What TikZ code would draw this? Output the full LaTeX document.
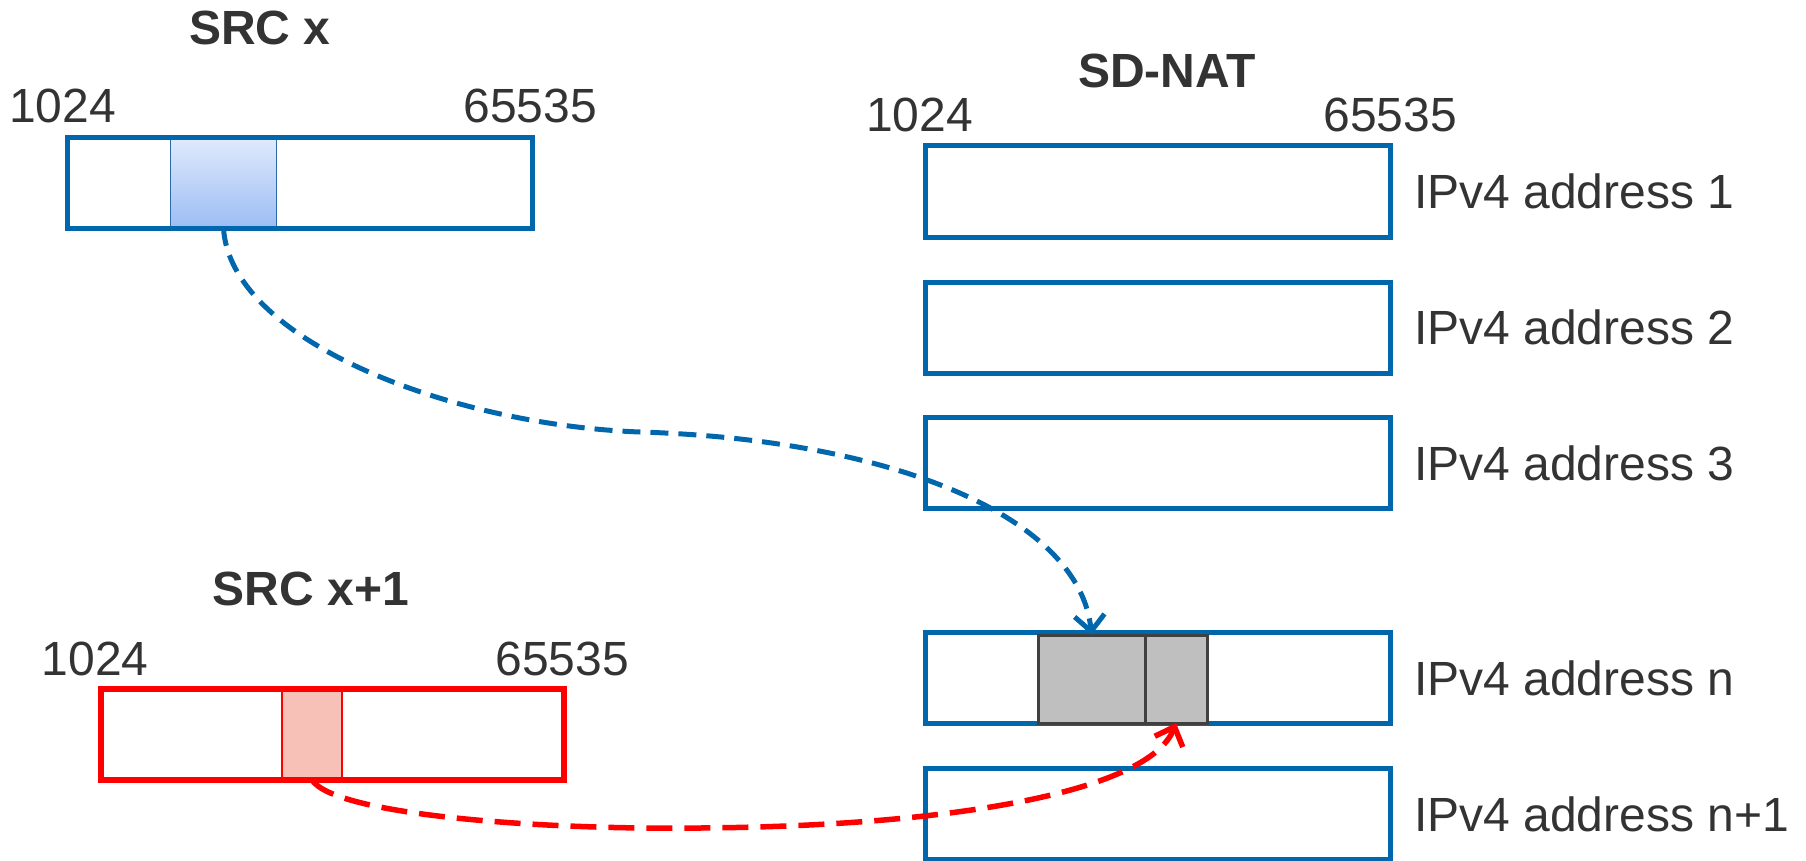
\documentclass[tikz,border=0pt]{standalone}
\usepackage{fontspec}
\setmainfont{Liberation Sans}
\usetikzlibrary{arrows.meta}
\definecolor{bblue}{HTML}{0067AC}
\definecolor{tgray}{HTML}{333333}
\definecolor{rred}{HTML}{FF0000}
\definecolor{gfill}{HTML}{BFBFBF}
\definecolor{gline}{HTML}{404040}
\definecolor{pfill}{HTML}{F8C1B8}
\definecolor{slottop}{HTML}{E0EAFC}
\definecolor{slotbot}{HTML}{9CBDF4}
\definecolor{slotline}{HTML}{2A6BA8}
\tikzset{
  lbl/.style={font=\fontsize{48}{56}\selectfont, text=tgray, inner sep=0pt},
  ttl/.style={font=\fontsize{48}{56}\selectfont\bfseries, text=tgray, inner sep=0pt},
  bbox/.style={draw=bblue, line width=5pt, rectangle, minimum width=465pt, minimum height=91pt, inner sep=0pt, outer sep=0pt},
  rbox/.style={draw=rred, line width=5.5pt, rectangle, minimum width=463pt, minimum height=91pt, inner sep=0pt, outer sep=0pt},
  bslotst/.style={draw=slotline, line width=1.5pt, top color=slottop, bottom color=slotbot, rectangle, minimum width=106pt, minimum height=90pt, inner sep=0pt, outer sep=0pt},
  pslotst/.style={draw=rred, line width=1.5pt, fill=pfill, rectangle, minimum width=60pt, minimum height=91pt, inner sep=0pt, outer sep=0pt},
  gslot/.style={draw=gline, line width=3pt, fill=gfill, rectangle, minimum height=88pt, inner sep=0pt, outer sep=0pt},
  bluearr/.style={draw=bblue, line width=5pt, dash pattern=on 18pt off 10pt, -{Straight Barb[length=16pt,width=30pt]}},
  redarr/.style={draw=rred, line width=5.5pt, dash pattern=on 26pt off 12pt, -{Straight Barb[length=16pt,width=30pt]}}
}
\begin{document}
\begin{tikzpicture}[x=1pt,y=-1pt]
\useasboundingbox (0,0) rectangle (1806,861);

% SRC x
\node[ttl, anchor=base] (tsrcx) at (260,45) {SRC x};
\node[lbl, anchor=base west] (sxlo) at (9,123) {1024};
\node[lbl, anchor=base east] (sxhi) at (597,123) {65535};
\node[bslotst] (bslot) at (223.5,183) {};
\node[bbox, minimum height=90pt] (srcx) at (299.5,183) {};

% SRC x+1
\node[ttl, anchor=base] (tsrcx1) at (311,605) {SRC x+1};
\node[lbl, anchor=base west] (s1lo) at (41.5,675) {1024};
\node[lbl, anchor=base east] (s1hi) at (629,675) {65535};
\node[pslotst] (pslot) at (312,734.5) {};
\node[rbox] (srcx1) at (332.5,734.5) {};

% SD-NAT
\node[ttl, anchor=base] (tnat) at (1167,88) {SD-NAT};
\node[lbl, anchor=base west] (nlo) at (866,132) {1024};
\node[lbl, anchor=base east] (nhi) at (1457,132) {65535};

\node[bbox] (nat1) at (1157.5,191.5) {};
\node[bbox] (nat2) at (1157.5,327.5) {};
\node[bbox] (nat3) at (1157.5,463) {};
\node[bbox] (natn) at (1157.5,678) {};
\node[bbox] (natn1) at (1157.5,814) {};

\node[lbl, anchor=west] (l1) at ([xshift=24pt]nat1.east) {IPv4 address 1};
\node[lbl, anchor=west] (l2) at ([xshift=24pt]nat2.east) {IPv4 address 2};
\node[lbl, anchor=west] (l3) at ([xshift=24pt]nat3.east) {IPv4 address 3};
\node[lbl, anchor=west] (ln) at ([xshift=24pt]natn.east) {IPv4 address n};
\node[lbl, anchor=west] (ln1) at ([xshift=24pt]natn1.east) {IPv4 address n+1};

\node[gslot, minimum width=107pt] (g1) at (1091.5,679) {};
\node[gslot, minimum width=62pt] (g2) at (1176,679) {};

% connectors
\coordinate (bmid) at (640,432);
\coordinate (rmid) at (700,828);
\draw[bluearr] (bslot.south) .. controls (230,340) and (450,425) .. (bmid)
  .. controls (900,440) and (1080,520) .. (g1.north);
\draw[redarr] (pslot.south) .. controls (335,815) and (540,830) .. (rmid)
  .. controls (960,826) and (1150,790) .. (g2.south);
\end{tikzpicture}
\end{document}
